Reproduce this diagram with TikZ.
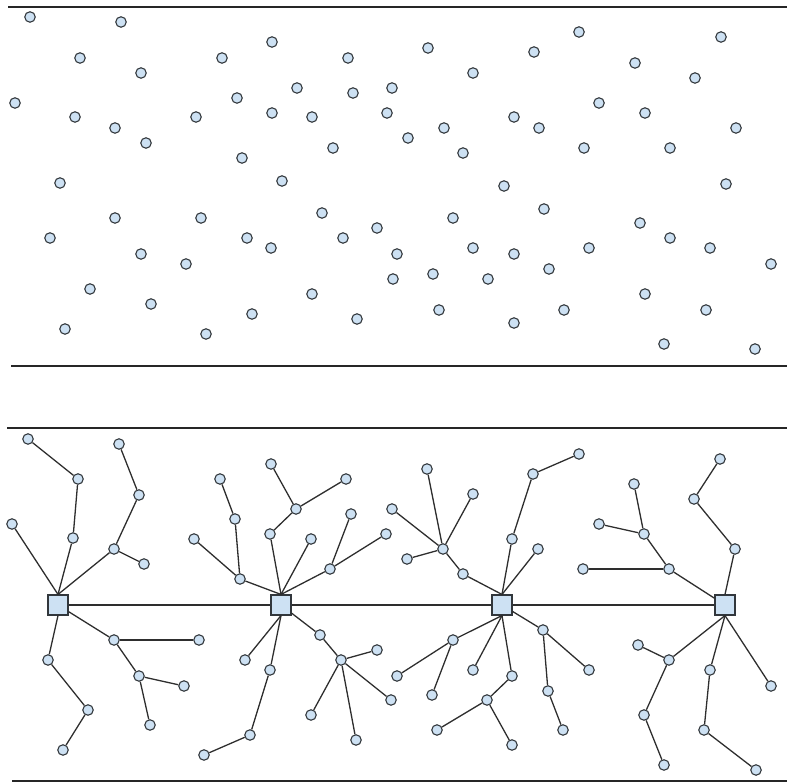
\documentclass[tikz,border=0pt]{standalone}
\usepackage{xcolor}
\definecolor{dotblue}{RGB}{205,225,243}
\definecolor{dotedge}{RGB}{50,55,60}
\usetikzlibrary{positioning}

\begin{document}
\begin{tikzpicture}[x=1pt,y=-1pt,
  agent/.style={circle,draw=dotedge,fill=dotblue,line width=1.1pt,minimum size=10.5pt,inner sep=0pt},
  hubnode/.style={rectangle,draw=dotedge,fill=dotblue,line width=1.1pt,minimum size=20pt,inner sep=0pt},
  link/.style={draw=black!82,line width=1.3pt},
  panelrule/.style={line width=1.5pt,black!85}
]
  \useasboundingbox (0,0) rectangle (787,783);
  % Panel rules
  \draw[panelrule] (8,7) -- (787,7);
  \draw[panelrule] (11,366) -- (787,366);
  \draw[panelrule] (7,428) -- (787,428);
  \draw[panelrule] (12,781) -- (787,781);

  % Upper panel: scattered agents
  \foreach \px/\py [count=\k] in {
    30/17,121/22,80/58,222/58,272/42,348/58,141/73,15/103,297/88,353/93,
    392/88,237/98,75/117,115/128,196/117,272/113,312/117,387/113,146/143,333/148,
    242/158,60/183,282/181,115/218,201/218,322/213,50/238,247/238,343/238,377/228,
    271/248,141/254,186/264,397/254,393/279,90/289,151/304,312/294,252/314,357/319,
    65/329,206/334,428/48,579/32,534/52,721/37,473/73,635/63,695/78,599/103,
    514/117,539/128,645/113,444/128,408/138,463/153,584/148,670/148,736/128,504/186,
    726/184,544/209,453/218,640/223,670/238,710/248,473/248,514/254,589/248,433/274,
    488/279,549/269,771/264,439/310,564/310,514/323,645/294,706/310,664/344,755/349}
    \node[agent] (s\k) at (\px,\py) {};

  % Lower panel: hubs
  \node[hubnode] (H1) at (58,605) {};
  \node[hubnode] (H2) at (281,605) {};
  \node[hubnode] (H3) at (502,605) {};
  \node[hubnode] (H4) at (725,605) {};
  \draw[link] (H1) -- (H2) -- (H3) -- (H4);

  % Tree 1
  \node[agent] (t1a) at (28,439) {};
  \node[agent] (t1b) at (78,479) {};
  \node[agent] (t1c) at (73,538) {};
  \node[agent] (t1d) at (12,524) {};
  \node[agent] (t1e) at (119,444) {};
  \node[agent] (t1f) at (139,495) {};
  \node[agent] (t1g) at (114,549) {};
  \node[agent] (t1h) at (144,564) {};
  \node[agent] (t1i) at (114,640) {};
  \node[agent] (t1j) at (199,640) {};
  \node[agent] (t1k) at (139,676) {};
  \node[agent] (t1l) at (184,686) {};
  \node[agent] (t1m) at (150,725) {};
  \node[agent] (t1n) at (48,660) {};
  \node[agent] (t1o) at (88,710) {};
  \node[agent] (t1p) at (63,750) {};
  \foreach \a/\b in {H1.north/t1d,H1.north/t1c,t1c/t1b,t1b/t1a,H1.north/t1g,t1g/t1f,
      t1f/t1e,t1g/t1h,H1/t1i,t1i/t1j,t1i/t1k,t1k/t1l,t1k/t1m,H1.south/t1n,t1n/t1o,t1o/t1p}
    \draw[link] (\a) -- (\b);

  % Tree 2
  \node[agent] (t2a) at (240,579) {};
  \node[agent] (t2b) at (235,519) {};
  \node[agent] (t2c) at (220,479) {};
  \node[agent] (t2d) at (194,539) {};
  \node[agent] (t2e) at (270,534) {};
  \node[agent] (t2f) at (296,509) {};
  \node[agent] (t2g) at (271,464) {};
  \node[agent] (t2h) at (346,479) {};
  \node[agent] (t2i) at (311,539) {};
  \node[agent] (t2j) at (330,569) {};
  \node[agent] (t2k) at (351,514) {};
  \node[agent] (t2l) at (386,534) {};
  \node[agent] (t2m) at (320,635) {};
  \node[agent] (t2n) at (341,660) {};
  \node[agent] (t2o) at (377,650) {};
  \node[agent] (t2p) at (391,700) {};
  \node[agent] (t2q) at (311,715) {};
  \node[agent] (t2r) at (356,740) {};
  \node[agent] (t2s) at (245,660) {};
  \node[agent] (t2t) at (270,670) {};
  \node[agent] (t2u) at (250,735) {};
  \node[agent] (t2v) at (204,755) {};
  \foreach \a/\b in {H2.north/t2a,t2a/t2b,t2b/t2c,t2a/t2d,H2.north/t2e,t2e/t2f,t2f/t2g,
      t2f/t2h,H2.north/t2i,H2.north/t2j,t2j/t2k,t2j/t2l,H2/t2m,t2m/t2n,t2n/t2o,t2n/t2p,
      t2n/t2q,t2n/t2r,H2.south/t2s,H2.south/t2t,t2t/t2u,t2u/t2v}
    \draw[link] (\a) -- (\b);

  % Tree 3
  \node[agent] (t3a) at (463,574) {};
  \node[agent] (t3b) at (443,549) {};
  \node[agent] (t3c) at (407,559) {};
  \node[agent] (t3d) at (392,509) {};
  \node[agent] (t3e) at (427,469) {};
  \node[agent] (t3f) at (473,494) {};
  \node[agent] (t3g) at (512,539) {};
  \node[agent] (t3h) at (533,474) {};
  \node[agent] (t3i) at (579,454) {};
  \node[agent] (t3j) at (538,549) {};
  \node[agent] (t3k) at (453,640) {};
  \node[agent] (t3l) at (397,676) {};
  \node[agent] (t3m) at (432,695) {};
  \node[agent] (t3n) at (473,670) {};
  \node[agent] (t3o) at (512,676) {};
  \node[agent] (t3p) at (487,700) {};
  \node[agent] (t3q) at (437,730) {};
  \node[agent] (t3r) at (512,745) {};
  \node[agent] (t3s) at (543,630) {};
  \node[agent] (t3t) at (589,670) {};
  \node[agent] (t3u) at (548,691) {};
  \node[agent] (t3v) at (563,730) {};
  \foreach \a/\b in {H3.north/t3a,t3a/t3b,t3b/t3c,t3b/t3d,t3b/t3e,t3b/t3f,H3.north/t3g,
      t3g/t3h,t3h/t3i,H3.north/t3j,H3.south/t3k,t3k/t3l,t3k/t3m,H3.south/t3n,H3.south/t3o,
      t3o/t3p,t3p/t3q,t3p/t3r,H3/t3s,t3s/t3t,t3s/t3u,t3u/t3v}
    \draw[link] (\a) -- (\b);

  % Tree 4
  \node[agent] (t4a) at (669,569) {};
  \node[agent] (t4b) at (583,569) {};
  \node[agent] (t4c) at (644,534) {};
  \node[agent] (t4d) at (599,524) {};
  \node[agent] (t4e) at (634,484) {};
  \node[agent] (t4f) at (735,549) {};
  \node[agent] (t4g) at (694,499) {};
  \node[agent] (t4h) at (720,459) {};
  \node[agent] (t4i) at (669,660) {};
  \node[agent] (t4j) at (638,645) {};
  \node[agent] (t4k) at (644,715) {};
  \node[agent] (t4l) at (664,765) {};
  \node[agent] (t4m) at (710,670) {};
  \node[agent] (t4n) at (704,730) {};
  \node[agent] (t4o) at (756,770) {};
  \node[agent] (t4p) at (771,686) {};
  \foreach \a/\b in {H4/t4a,t4a/t4b,t4a/t4c,t4c/t4d,t4c/t4e,H4.north/t4f,t4f/t4g,t4g/t4h,
      H4.south/t4i,t4i/t4j,t4i/t4k,t4k/t4l,H4.south/t4m,t4m/t4n,t4n/t4o,H4.south/t4p}
    \draw[link] (\a) -- (\b);
\end{tikzpicture}
\end{document}
